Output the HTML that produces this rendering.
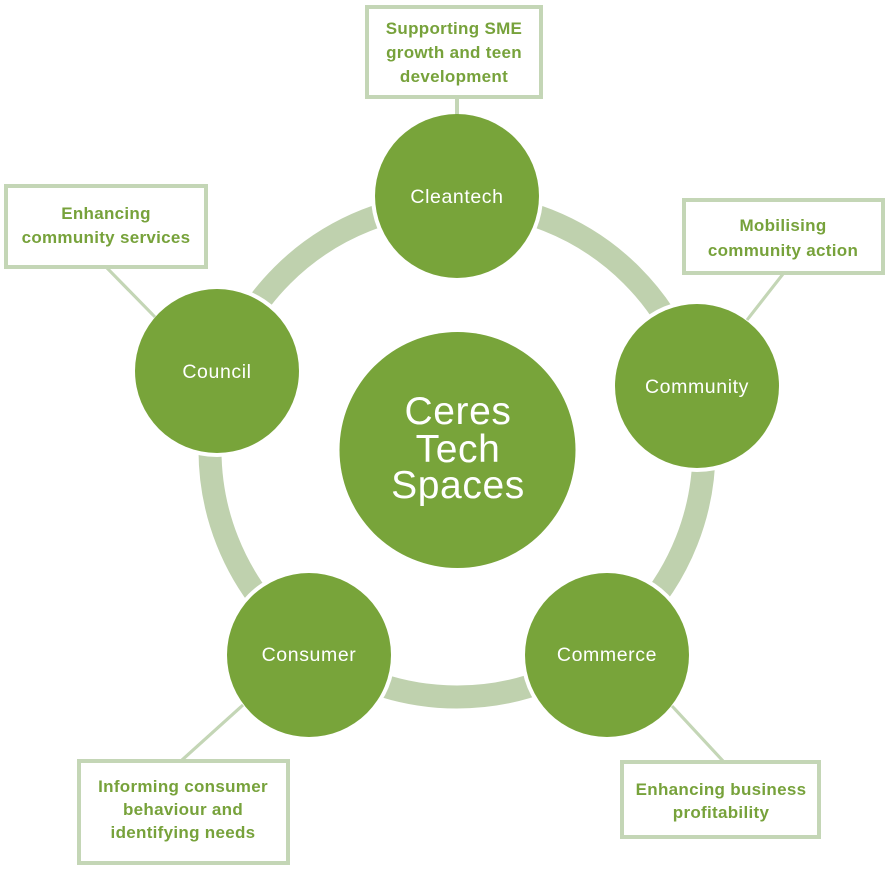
<!DOCTYPE html>
<html>
<head>
<meta charset="utf-8">
<style>
  html, body { margin: 0; padding: 0; background: #ffffff; }
  body { width: 890px; height: 871px; overflow: hidden; }
  svg { display: block; }
  .lbl { font-family: "Liberation Sans", Arial, sans-serif; font-weight: bold; font-size: 17px; fill: #77a23b; letter-spacing: 0.3px; }
  .node { font-family: "Liberation Sans", Arial, sans-serif; font-size: 19.5px; fill: #ffffff; letter-spacing: 0.6px; }
  .ctr { font-family: "Liberation Sans", Arial, sans-serif; font-size: 39px; fill: #ffffff; letter-spacing: 0.6px; }
</style>
</head>
<body>
<svg width="890" height="871" viewBox="0 0 890 871" xmlns="http://www.w3.org/2000/svg">
  <!-- ring -->
  <circle cx="457" cy="450" r="247" fill="none" stroke="#bfd1ae" stroke-width="23"/>

  <!-- connectors -->
  <g stroke="#c4d6b6" fill="none">
    <line x1="457" y1="97" x2="457" y2="116" stroke-width="4"/>
    <line x1="783" y1="274" x2="747" y2="320" stroke-width="3"/>
    <line x1="107" y1="268" x2="155" y2="317" stroke-width="3"/>
    <line x1="182" y1="760" x2="243" y2="705" stroke-width="3"/>
    <line x1="723" y1="761" x2="672" y2="706" stroke-width="3"/>
  </g>

  <!-- white gaps around nodes -->
  <g fill="#ffffff">
    <circle cx="457" cy="196" r="86"/>
    <circle cx="697" cy="386" r="86"/>
    <circle cx="607" cy="655" r="86"/>
    <circle cx="309" cy="655" r="86"/>
    <circle cx="217" cy="371" r="86"/>
  </g>
  <!-- redraw connector stubs over white gaps -->
  <g stroke="#c4d6b6" fill="none">
    <line x1="457" y1="97" x2="457" y2="116" stroke-width="4"/>
    <line x1="783" y1="274" x2="747" y2="320" stroke-width="3"/>
    <line x1="107" y1="268" x2="155" y2="317" stroke-width="3"/>
    <line x1="182" y1="760" x2="243" y2="705" stroke-width="3"/>
    <line x1="723" y1="761" x2="672" y2="706" stroke-width="3"/>
  </g>

  <!-- nodes -->
  <g fill="#78a43a">
    <circle cx="457.5" cy="450" r="118"/>
    <circle cx="457" cy="196" r="82"/>
    <circle cx="697" cy="386" r="82"/>
    <circle cx="607" cy="655" r="82"/>
    <circle cx="309" cy="655" r="82"/>
    <circle cx="217" cy="371" r="82"/>
  </g>

  <!-- node labels -->
  <text class="node" x="457" y="203" text-anchor="middle">Cleantech</text>
  <text class="node" x="697" y="393" text-anchor="middle">Community</text>
  <text class="node" x="607" y="661" text-anchor="middle">Commerce</text>
  <text class="node" x="309" y="661" text-anchor="middle">Consumer</text>
  <text class="node" x="217" y="378" text-anchor="middle">Council</text>

  <!-- center label -->
  <text class="ctr" x="458" y="424" text-anchor="middle">Ceres</text>
  <text class="ctr" x="458" y="462" text-anchor="middle">Tech</text>
  <text class="ctr" x="458" y="498" text-anchor="middle">Spaces</text>

  <!-- boxes -->
  <g fill="#ffffff" stroke="#c4d6b6" stroke-width="4">
    <rect x="367" y="7" width="174" height="90"/>
    <rect x="684" y="200" width="199" height="73"/>
    <rect x="6" y="186" width="200" height="81"/>
    <rect x="79" y="761" width="209" height="102"/>
    <rect x="622" y="762" width="197" height="75"/>
  </g>

  <!-- box labels -->
  <g text-anchor="middle">
    <text class="lbl" x="454" y="34">Supporting SME</text>
    <text class="lbl" x="454" y="58">growth and teen</text>
    <text class="lbl" x="454" y="82">development</text>

    <text class="lbl" x="783" y="231">Mobilising</text>
    <text class="lbl" x="783" y="256">community action</text>

    <text class="lbl" x="106" y="219">Enhancing</text>
    <text class="lbl" x="106" y="243">community services</text>

    <text class="lbl" x="183" y="792">Informing consumer</text>
    <text class="lbl" x="183" y="815">behaviour and</text>
    <text class="lbl" x="183" y="838">identifying needs</text>

    <text class="lbl" x="721" y="795">Enhancing business</text>
    <text class="lbl" x="721" y="818">profitability</text>
  </g>
</svg>
</body>
</html>
